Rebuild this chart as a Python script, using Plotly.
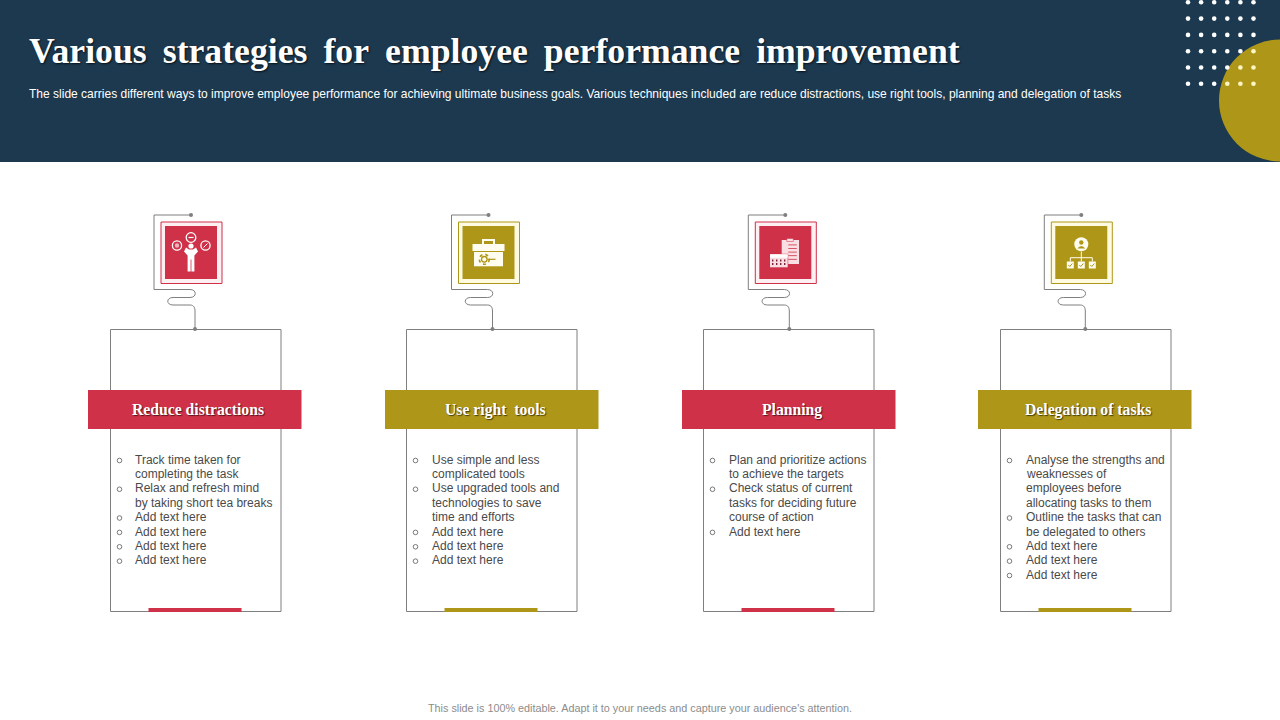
import plotly.graph_objects as go

# slide texts
title = 'Various\u00a0\u2009strategies\u00a0\u2009for\u00a0\u2009employee\u00a0\u2009performance\u00a0\u2009improvement'
subtitle = ('The slide carries different ways to improve employee performance for achieving ultimate '
            'business goals. Various techniques included are reduce distractions, use right tools, '
            'planning and delegation of tasks')
footer = "This slide is 100% editable. Adapt it to your needs and capture your audience's attention."

headings = ['Reduce distractions', 'Use right\u00a0 tools', 'Planning', 'Delegation of tasks']

# one inner list per bullet, one string per wrapped line
bullets_reduce = [['Track time taken for', 'completing the task'],
                  ['Relax and refresh mind', 'by taking short tea breaks'],
                  ['Add text here'], ['Add text here'], ['Add text here'], ['Add text here']]
bullets_tools = [['Use simple and less', 'complicated tools'],
                 ['Use upgraded tools and', 'technologies to save', 'time and efforts'],
                 ['Add text here'], ['Add text here'], ['Add text here']]
bullets_planning = [['Plan and prioritize actions', 'to achieve the targets'],
                    ['Check status of current', 'tasks for deciding future', 'course of action'],
                    ['Add text here']]
bullets_delegation = [['Analyse the strengths and', 'weaknesses of', 'employees before',
                       'allocating tasks to them'],
                      ['Outline the tasks that can', 'be delegated to others'],
                      ['Add text here'], ['Add text here'], ['Add text here']]
card_bullets = [bullets_reduce, bullets_tools, bullets_planning, bullets_delegation]

NAVY = '#1c394f'
GOLD = '#ae9618'
RED = '#cf3148'
GREY = '#7f7f7f'
PALE_GOLD = '#fffbe3'
PALE_RED = '#fdf0f2'

card_left = [110.5, 406.5, 703.5, 1000.5]
band_left = [88, 385, 682, 978]
wire_left = [154, 451.5, 748.3, 1044.3]
text_left = [134.2, 431.2, 728.2, 1025.2]
card_colour = [RED, GOLD, RED, GOLD]
card_pale = [PALE_RED, PALE_GOLD, PALE_RED, PALE_GOLD]

shapes = []
annotations = []


def rect(x0, y0, x1, y1, fill=None, line=None, width=1):
    shapes.append(dict(type='rect', x0=x0, y0=y0, x1=x1, y1=y1,
                       fillcolor=fill or 'rgba(0,0,0,0)',
                       line=dict(color=line or 'rgba(0,0,0,0)', width=width if line else 0)))


def circle(cx, cy, r, fill=None, line=None, width=1, dash='solid'):
    shapes.append(dict(type='circle', x0=cx - r, y0=cy - r, x1=cx + r, y1=cy + r,
                       fillcolor=fill or 'rgba(0,0,0,0)',
                       line=dict(color=line or 'rgba(0,0,0,0)', width=width if line else 0, dash=dash)))


def path(d, fill=None, line=None, width=1):
    shapes.append(dict(type='path', path=d, fillcolor=fill or 'rgba(0,0,0,0)',
                       line=dict(color=line or 'rgba(0,0,0,0)', width=width if line else 0)))


def text(x, y, s, size, colour, family='Liberation Sans', anchor='left', bold=False, shadow=None):
    font = dict(size=size, color=colour, family=family, weight='bold' if bold else 'normal')
    if shadow:
        font['shadow'] = shadow
    annotations.append(dict(x=x, y=y, text=s, showarrow=False, xanchor=anchor, yanchor='middle',
                            font=font, borderpad=0))


def person_icon(cx, cy):
    white = '#ffffff'
    circle(cx, cy - 15, 4.8, None, white, 1.3)
    rect(cx - 2.5, cy - 15.6, cx + 2.5, cy - 14.4, white)
    circle(cx - 14, cy - 7, 4.6, None, white, 1.3)
    circle(cx - 14, cy - 7, 2.2, '#eeb4bd')
    circle(cx + 14.5, cy - 7, 4.6, None, white, 1.3)
    path(f'M{cx + 12.5},{cy - 5} L{cx + 16.5},{cy - 9}', None, white, 1)
    circle(cx, cy - 6.5, 2.6, white)
    path(f'M{cx - 7},{cy - 1} L{cx - 5},{cy - 5} L{cx - 2},{cy - 3} L{cx + 2},{cy - 3} L{cx + 5},{cy - 5} '
         f'L{cx + 7},{cy - 1} L{cx + 3.4},{cy + 3} L{cx + 3.4},{cy + 19} L{cx + 0.4},{cy + 19} '
         f'L{cx + 0.4},{cy + 7} L{cx - 0.4},{cy + 7} L{cx - 0.4},{cy + 19} L{cx - 3.4},{cy + 19} '
         f'L{cx - 3.4},{cy + 3} Z', white)


def toolbox_icon(cx, cy):
    white = '#fffdf0'
    path(f'M{cx - 5.5},{cy - 8.5} L{cx - 5.5},{cy - 12.5} L{cx + 5.5},{cy - 12.5} L{cx + 5.5},{cy - 8.5}',
         None, white, 2)
    rect(cx - 16, cy - 8.5, cx + 16, cy - 1.5, white)
    rect(cx - 14.5, cy - 0.5, cx + 14.5, cy + 13.8, white)
    circle(cx - 4.2, cy + 6.8, 2.8, None, GOLD, 1.3)
    circle(cx - 4.2, cy + 6.8, 5, None, GOLD, 1.6, 'dot')
    rect(cx - 1, cy + 6.2, cx + 7, cy + 7.4, GOLD)


def planning_icon(cx, cy):
    pale = '#f9dfe3'
    rect(cx - 3.6, cy - 12.5, cx + 13.7, cy + 11.5, pale)
    rect(cx + 1.5, cy - 14, cx + 8, cy - 11, pale, RED, 0.5)
    for i in range(5):
        rect(cx + 3, cy - 8 + i * 3.6, cx + 11.5, cy - 7.2 + i * 3.6, RED)
    rect(cx - 15.8, cy + 1.3, cx + 2.9, cy + 15.3, RED)
    rect(cx - 15.3, cy + 1.8, cx + 2.4, cy + 14.8, pale)
    rect(cx - 15.3, cy + 1.8, cx + 2.4, cy + 5.2, '#ffffff')
    for col in range(4):
        for row in range(2):
            rect(cx - 13.3 + col * 4, cy + 7 + row * 3.6, cx - 11.9 + col * 4, cy + 9 + row * 3.6, '#7a2030')


def org_icon(cx, cy):
    white = '#fffdf0'
    circle(cx, cy - 8.2, 7, white)
    circle(cx, cy - 10, 2.2, GOLD)
    path(f'M{cx - 4},{cy - 4} Q{cx},{cy - 9} {cx + 4},{cy - 4} Z', GOLD)
    path(f'M{cx},{cy - 1} L{cx},{cy + 9}', None, white, 1)
    path(f'M{cx - 11},{cy + 9} L{cx - 11},{cy + 5.2} L{cx + 11},{cy + 5.2} L{cx + 11},{cy + 9}', None, white, 1)
    for ox in (-11, 0, 11):
        rect(cx + ox - 3.5, cy + 9, cx + ox + 3.5, cy + 16, white)
        path(f'M{cx + ox - 2},{cy + 12.5} L{cx + ox - 0.5},{cy + 14} L{cx + ox + 2},{cy + 11}', None, GOLD, 1)


icons = [person_icon, toolbox_icon, planning_icon, org_icon]

# header
rect(0, 0, 1280, 162, NAVY)
circle(1280, 100.5, 61, GOLD)
for row in range(6):
    for col in range(6):
        x, y = 1188 + col * 13.1, 2.3 + row * 16.3
        over_gold = (x - 1280) ** 2 + (y - 100.5) ** 2 < 61 ** 2
        circle(x, y, 2.3, '#fdf6c4' if over_gold else '#ffffff')

text(28, 51, title, 35.7, '#ffffff', 'Liberation Serif', bold=True, shadow='1px 1px 2px rgba(0,0,0,0.7)')
text(28, 93.5, subtitle, 12.03, '#ffffff')

for i, bullets in enumerate(card_bullets):
    left = card_left[i]
    wire = wire_left[i]
    colour = card_colour[i]

    rect(left, 329.5, left + 170.5, 611.5, None, GREY, 1)

    # wire from the icon frame down to the card
    top_dot = wire + 37
    bottom_dot = wire + 41
    path(f'M{top_dot},215 L{wire},215 L{wire},289.5 L{wire + 36},289.5 '
         f'C{wire + 43},289.5 {wire + 43},297.5 {wire + 36},297.5 L{wire + 19},297.5 '
         f'C{wire + 12},297.5 {wire + 12},305 {wire + 19},305 L{wire + 36},305 '
         f'C{wire + 40},305 {wire + 41},308 {wire + 41},311 L{bottom_dot},329',
         None, GREY, 1)
    circle(top_dot, 215, 2, GREY)
    circle(bottom_dot, 329, 2, GREY)

    # icon
    rect(wire + 7, 222, wire + 68, 283.5, card_pale[i], colour, 1)
    rect(wire + 11, 226, wire + 63, 279, colour)
    icons[i](wire + 37, 252.5)

    # heading band
    rect(band_left[i], 390, band_left[i] + 213.5, 429, colour)
    text(band_left[i] + 110, 409.5, headings[i], 15.7, '#ffffff', 'Liberation Serif', 'center', True,
         '1px 1px 1px rgba(0,0,0,0.6)')
    rect(left + 38, 608, left + 131, 612, colour)

    # bullet list
    row = 0
    for bullet in bullets:
        circle(left + 9, 460.5 + row * 14.38, 2.3, None, '#595959', 0.8)
        for line in bullet:
            text(text_left[i], 459.7 + row * 14.38, line, 12, '#4a4a4a')
            row += 1

text(639.5, 708, footer, 10.8, '#8c8c8c', anchor='center')

fig = go.Figure()
fig.update_layout(width=1280, height=720, margin=dict(l=0, r=0, t=0, b=0),
                  paper_bgcolor='#ffffff', plot_bgcolor='#ffffff', showlegend=False,
                  shapes=shapes, annotations=annotations,
                  xaxis=dict(range=[0, 1280], visible=False, fixedrange=True),
                  yaxis=dict(range=[720, 0], visible=False, fixedrange=True))
fig.write_html('out.html', config=dict(displayModeBar=False),
               post_script="document.body.style.margin='0';document.documentElement.style.overflow='hidden';")
